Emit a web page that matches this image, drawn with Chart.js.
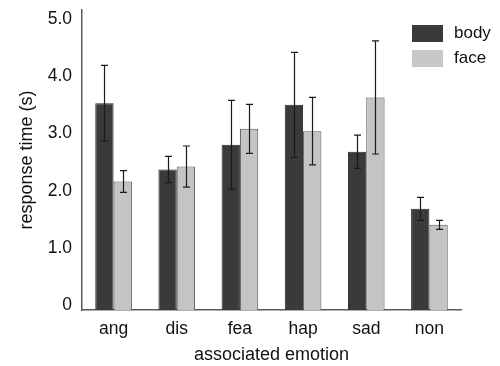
<!DOCTYPE html>
<html>
<head>
<meta charset="utf-8">
<script src="https://cdn.jsdelivr.net/npm/chart.js@4/dist/chart.umd.min.js"></script>
<style>
  html, body { margin: 0; padding: 0; background: #fff; }
  #wrap { width: 500px; height: 366px; position: relative; }
</style>
</head>
<body>
<div id="wrap"><canvas id="c"></canvas></div>
<script>
const categories = ['ang', 'dis', 'fea', 'hap', 'sad', 'non'];
const bodyValues = [3.62, 2.46, 2.89, 3.59, 2.77, 1.77];
const bodyErrors = [0.66, 0.23, 0.78, 0.92, 0.29, 0.20];
const faceValues = [2.25, 2.51, 3.17, 3.13, 3.72, 1.49];
const faceErrors = [0.19, 0.36, 0.43, 0.59, 0.99, 0.08];
const yTickValues = [0, 1, 2, 3, 4, 5];
const yTickLabels = ['0', '1.0', '2.0', '3.0', '4.0', '5.0'];
const seriesNames = ['body', 'face'];

const FONT = '"Liberation Sans", Arial, Helvetica, sans-serif';
const TEXT = '#111111';

const errorBars = {
  id: 'errorBars',
  afterDatasetsDraw(chart) {
    const ctx = chart.ctx;
    const ys = chart.scales.y;
    ctx.save();
    ctx.strokeStyle = '#1a1a1a';
    ctx.lineWidth = 1.2;
    chart.data.datasets.forEach((ds, i) => {
      const meta = chart.getDatasetMeta(i);
      meta.data.forEach((el, j) => {
        const v = ds.data[j], e = ds.errors[j];
        const yTop = ys.getPixelForValue(v + e);
        const yBot = ys.getPixelForValue(v - e);
        const x = Math.round(el.x) + 0.5;
        const w = 3.5;
        ctx.beginPath();
        ctx.moveTo(x, yTop); ctx.lineTo(x, yBot);
        ctx.moveTo(x - w, yTop); ctx.lineTo(x + w, yTop);
        ctx.moveTo(x - w, yBot); ctx.lineTo(x + w, yBot);
        ctx.stroke();
      });
    });
    ctx.restore();
  }
};

const insideLegend = {
  id: 'insideLegend',
  afterDraw(chart) {
    const ctx = chart.ctx;
    const area = chart.chartArea;
    const bx = area.right - 49;
    ctx.save();
    ctx.font = '17px ' + FONT;
    ctx.textBaseline = 'middle';
    ctx.textAlign = 'left';
    chart.data.datasets.forEach((ds, i) => {
      const by = area.top + 15 + i * 25;
      ctx.fillStyle = ds.legendColor;
      ctx.fillRect(bx, by, 31, 17);
      ctx.fillStyle = TEXT;
      ctx.fillText(ds.label, bx + 42, by + 8.5);
    });
    ctx.restore();
  }
};

new Chart(document.getElementById('c'), {
  type: 'bar',
  data: {
    labels: categories,
    datasets: [
      { label: seriesNames[0], data: bodyValues, errors: bodyErrors,
        backgroundColor: '#3a3a3a', borderColor: '#262626', borderWidth: 1,
        legendColor: '#3a3a3a' },
      { label: seriesNames[1], data: faceValues, errors: faceErrors,
        backgroundColor: '#c4c4c4', borderColor: '#555555', borderWidth: 1,
        legendColor: '#c8c8c8' }
    ]
  },
  options: {
    responsive: true,
    maintainAspectRatio: false,
    animation: false,
    devicePixelRatio: 1,
    layout: { padding: { top: 10, right: 39, left: 0, bottom: 0 } },
    datasets: { bar: { categoryPercentage: 0.58, barPercentage: 1.0 } },
    plugins: { legend: { display: false }, tooltip: { enabled: false } },
    scales: {
      x: {
        grid: { display: false },
        border: { display: true, color: '#5a5a5a', width: 1.5 },
        ticks: { color: TEXT, font: { family: FONT, size: 17.5 }, padding: 1 },
        title: { display: true, text: 'associated emotion', color: TEXT,
                 font: { family: FONT, size: 18 }, padding: { top: 0, bottom: 0 } },
        afterFit(scale) { scale.height = 56; scale.paddingLeft = 0; scale.paddingRight = 0; }
      },
      y: {
        min: 0, max: 5.25,
        grid: { display: false },
        border: { display: true, color: '#5a5a5a', width: 1.5 },
        afterBuildTicks(scale) { scale.ticks = yTickValues.map(v => ({ value: v })); },
        ticks: {
          color: TEXT, font: { family: FONT, size: 17.5 }, padding: 2, labelOffset: -5,
          callback: (v) => yTickLabels[yTickValues.indexOf(v)]
        },
        title: { display: true, text: 'response time (s)', color: TEXT,
                 font: { family: FONT, size: 18 }, padding: { bottom: 0, top: 16 } },
        afterFit(scale) { scale.width = 82; scale.paddingTop = 0; scale.paddingBottom = 0; }
      }
    }
  },
  plugins: [errorBars, insideLegend]
});
</script>
</body>
</html>
